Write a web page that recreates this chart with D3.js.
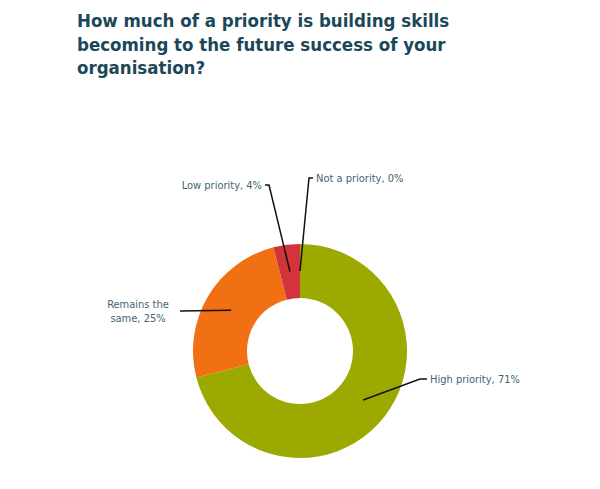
<!DOCTYPE html>
<html>
<head>
<meta charset="utf-8">
<script src="https://cdn.jsdelivr.net/npm/d3@7"></script>
<style>
  body { margin: 0; background: #fff; }
</style>
</head>
<body>
<script>
// donut: how much of a priority is building skills

var categories = ["High priority", "Remains the same", "Low priority", "Not a priority"];
var values = [71, 25, 4, 0];
var colors = ["#9ba900", "#f27014", "#d3343b", "#b0b0b0"];

var titleLines = ["How much of a priority is building skills",
                  "becoming to the future success of your",
                  "organisation?"];

var width = 600;
var height = 489;
var cx = 300, cy = 351;
var outerR = 107, innerR = 53;

// where each leader line bends, relative to the centre, and which way the label sits
var labelLayout = [
  { elbow: [120, 28], end: [127, 28], anchor: "start", lines: ["High priority, 71%"] },
  { elbow: [-120, -40], end: [-120, -40], anchor: "middle", lines: ["Remains the", "same, 25%"] },
  { elbow: [-31, -166], end: [-35, -166], anchor: "end", lines: ["Low priority, 4%"] },
  { elbow: [9, -173], end: [13, -173], anchor: "start", lines: ["Not a priority, 0%"] }
];

var svg = d3.select("body")
            .append("svg")
            .attr("width", width)
            .attr("height", height);

var title = svg.append("text")
   .attr("x", 77)
   .attr("y", 27)
   .attr("font-family", "'DejaVu Sans Condensed', 'DejaVu Sans', sans-serif")
   .attr("font-weight", "bold")
   .attr("font-size", "18.5px")
   .attr("fill", "#1a4858");

title.selectAll("tspan")
   .data(titleLines)
   .enter()
   .append("tspan")
   .attr("x", 77)
   .attr("dy", function(d, i){ return i == 0 ? 0 : 23.5; })
   .text(function(d){ return d; });

var pie = d3.pie()
            .sort(null)
            .value(function(d){ return d; });

var arcs = pie(values);

var arc = d3.arc()
            .innerRadius(innerR)
            .outerRadius(outerR);

var g = svg.append("g")
           .attr("transform", "translate(" + cx + "," + cy + ")");

g.selectAll("path")
 .data(arcs)
 .enter()
 .append("path")
 .attr("d", arc)
 .attr("fill", function(d, i){ return colors[i]; });

// leader lines start from the middle of the ring
var midR = (innerR + outerR) / 2;

g.selectAll("polyline")
 .data(arcs)
 .enter()
 .append("polyline")
 .attr("points", function(d, i){
   var a = (d.startAngle + d.endAngle) / 2;
   var p0 = [Math.sin(a) * midR, -Math.cos(a) * midR];
   var L = labelLayout[i];
   return [p0, L.elbow, L.end].map(function(p){ return p.join(","); }).join(" ");
 })
 .attr("fill", "none")
 .attr("stroke", "#111")
 .attr("stroke-width", 1.5);

var labels = g.selectAll("text.lbl")
 .data(arcs)
 .enter()
 .append("text")
 .attr("class", "lbl")
 .attr("font-family", "'DejaVu Sans Condensed', 'DejaVu Sans', sans-serif")
 .attr("font-size", "11px")
 .attr("fill", "#3f6473")
 .attr("text-anchor", function(d, i){ return labelLayout[i].anchor; })
 .attr("transform", function(d, i){
   var L = labelLayout[i];
   var dx = L.anchor == "start" ? 3 : (L.anchor == "end" ? -3 : -42);
   var dy = L.lines.length > 1 ? -3 : 4;
   return "translate(" + (L.end[0] + dx) + "," + (L.end[1] + dy) + ")";
 });

labels.selectAll("tspan")
 .data(function(d, i){ return labelLayout[i].lines; })
 .enter()
 .append("tspan")
 .attr("x", 0)
 .attr("dy", function(d, i){ return i == 0 ? 0 : 14; })
 .text(function(d){ return d; });
</script>
</body>
</html>
